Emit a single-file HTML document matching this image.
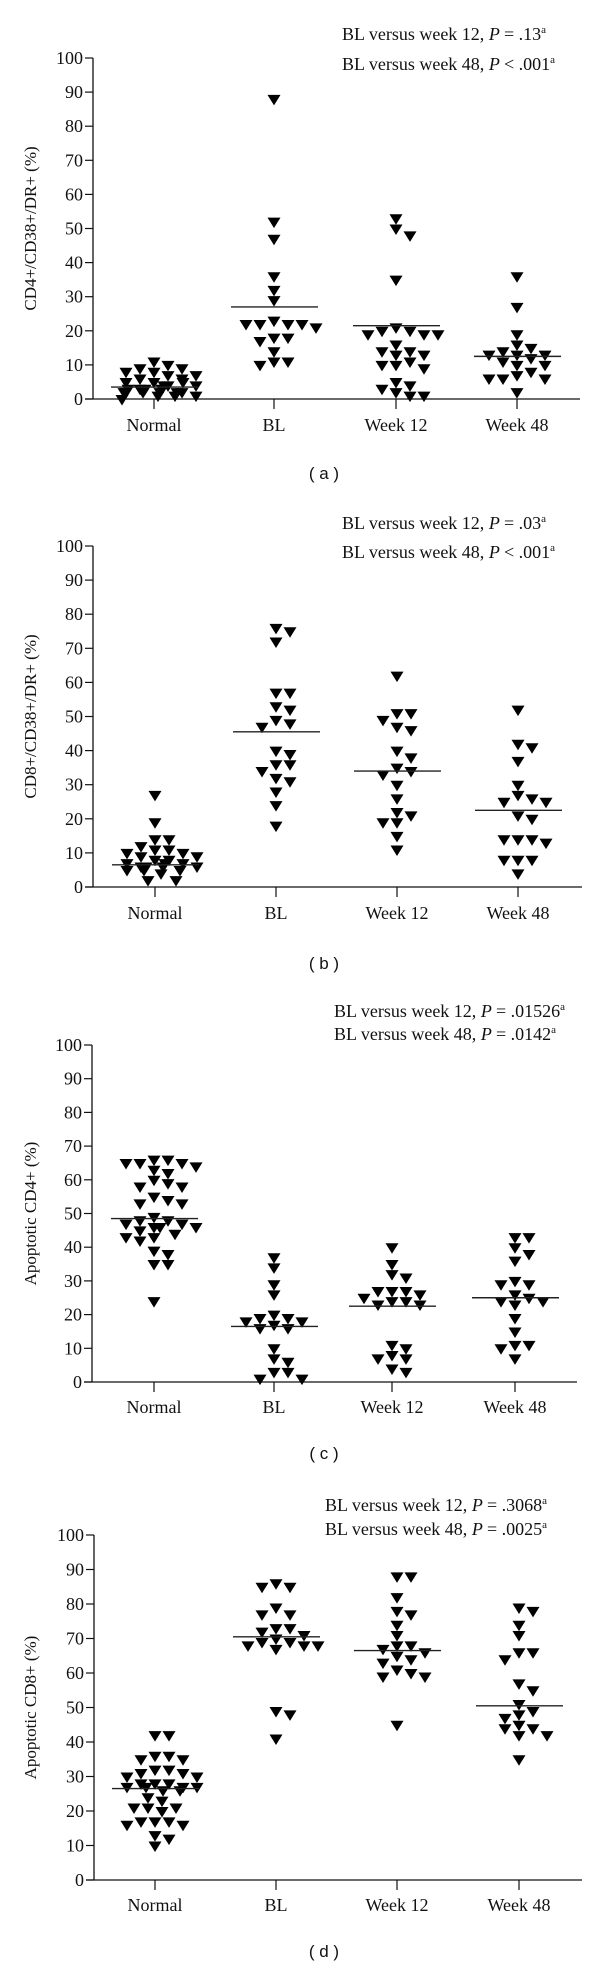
<!DOCTYPE html>
<html><head><meta charset="utf-8"><style>
html,body{margin:0;padding:0;background:#fff;}
svg text{font-family:"Liberation Serif",serif;fill:#111;}
</style></head><body>
<svg id="chart" width="600" height="1968" viewBox="0 0 600 1968" xmlns="http://www.w3.org/2000/svg"></svg>
<script>
const categories = ["Normal","BL","Week 12","Week 48"];
const yTicks = [0,10,20,30,40,50,60,70,80,90,100];

const aNormal = [9,8,7,5,4,3,2,2,1,11,10,9,8,6,5,4,3,2,1,0,7,6,5,4,3,2,2,1,3,2];
const aBL = [88,52,47,36,32,29,23,22,22,22,22,21,18,18,17,14,11,11,10];
const aW12 = [53,50,48,35,21,20,19,19,19,20,16,14,13,13,14,11,10,9,10,5,4,3,2,1,1];
const aW48 = [36,27,19,16,15,14,13,13,13,12,11,10,10,8,7,6,6,6,2];
const aMedians = [3.5,27,21.5,12.5];

const bNormal = [27,19,14,14,12,11,11,10,10,9,9,8,8,7,7,6,6,6,5,5,5,4,2,2,7,6];
const bBL = [76,75,72,57,57,53,52,49,48,47,40,39,36,36,34,31,32,28,24,18];
const bW12 = [62,51,51,49,47,46,40,38,35,34,33,30,26,22,21,19,19,15,11];
const bW48 = [52,42,41,37,30,27,25,26,25,21,20,14,14,13,14,8,8,8,4];
const bMedians = [6.5,45.5,34,22.5];

const cNormal = [66,66,65,65,65,64,63,62,60,59,58,58,55,54,53,53,49,48,48,47,47,46,46,46,45,44,43,43,42,39,38,35,35,24];
const cBL = [37,34,29,26,20,19,19,18,18,17,16,16,10,7,6,3,3,1,1];
const cW12 = [40,35,32,31,27,27,27,26,25,24,24,23,23,11,10,8,7,7,4,3];
const cW48 = [43,43,40,38,36,30,29,29,26,25,24,23,24,19,15,11,11,10,7];
const cMedians = [48.5,16.5,22.5,25];

const dNormal = [42,42,36,36,35,35,32,32,31,31,30,30,28,28,28,27,27,27,27,26,26,24,23,21,21,20,21,17,17,16,16,17,13,12,10];
const dBL = [86,85,85,79,77,77,73,73,72,71,70,69,68,68,67,68,69,49,48,41];
const dW12 = [88,88,82,78,77,74,71,68,68,67,66,65,64,63,61,60,59,59,45];
const dW48 = [79,78,74,71,66,66,64,57,55,51,49,48,47,45,44,44,42,42,35];
const dMedians = [26.5,70.5,66.5,50.5];

const NS = "http://www.w3.org/2000/svg";
const svg = document.getElementById("chart");
function mk(tag, attrs, parent){
  const e = document.createElementNS(NS, tag);
  for (const k in attrs) e.setAttribute(k, attrs[k]);
  (parent||svg).appendChild(e);
  return e;
}

const panels = [
  {id:"a", series:[aNormal,aBL,aW12,aW48], medians:aMedians, ytitle:"CD4+/CD38+/DR+ (%)",
   ax:93, right:580, y100:58, y0:399, cats:[154,274,396,517], labY:431, tagY:479, tagX:324,
   p1:["BL versus week 12, ","= .13"], p2:["BL versus week 48, ","< .001"], px:342, py1:40, py2:70},
  {id:"b", series:[bNormal,bBL,bW12,bW48], medians:bMedians, ytitle:"CD8+/CD38+/DR+ (%)",
   ax:93, right:582, y100:546, y0:887, cats:[155,276,397,518], labY:919, tagY:969, tagX:324,
   p1:["BL versus week 12, ","= .03"], p2:["BL versus week 48, ","< .001"], px:342, py1:529, py2:558},
  {id:"c", series:[cNormal,cBL,cW12,cW48], medians:cMedians, ytitle:"Apoptotic CD4+ (%)",
   ax:92, right:577, y100:1045, y0:1382, cats:[154,274,392,515], labY:1413, tagY:1459, tagX:324,
   p1:["BL versus week 12, ","= .01526"], p2:["BL versus week 48, ","= .0142"], px:334, py1:1017, py2:1040},
  {id:"d", series:[dNormal,dBL,dW12,dW48], medians:dMedians, ytitle:"Apoptotic CD8+ (%)",
   ax:94, right:582, y100:1535, y0:1880, cats:[155,276,397,519], labY:1911, tagY:1957, tagX:324,
   p1:["BL versus week 12, ","= .3068"], p2:["BL versus week 48, ","= .0025"], px:325, py1:1511, py2:1535}
];

function pText(g, x, y, parts, name){
  const t = mk("text", {x:x, y:y, "font-size":18}, g);
  
  
  const s1 = mk("tspan", {}, t); s1.textContent = parts[0];
  const s2 = mk("tspan", {"font-style":"italic"}, t); s2.textContent = "P ";
  const s3 = mk("tspan", {}, t); s3.textContent = parts[1];
  const s4 = mk("tspan", {"font-size":11, dy:-7}, t); s4.textContent = "a";
}

panels.forEach(p => {
  const g = mk("g", {});
  
  
  const yS = v => p.y0 - (p.y0 - p.y100) * v / 100;
  const ya = mk("line", {x1:p.ax, y1:p.y100, x2:p.ax, y2:p.y0, stroke:"#111", "stroke-width":1.3}, g);
  
  
  const xa = mk("line", {x1:p.ax-8, y1:p.y0, x2:p.right, y2:p.y0, stroke:"#111", "stroke-width":1.3}, g);
  
  
  yTicks.forEach(v => {
    const y = yS(v);
    mk("line", {x1:p.ax-8, y1:y, x2:p.ax, y2:y, stroke:"#111", "stroke-width":1.2}, g);
    const t = mk("text", {x:p.ax-10, y:y+6, "font-size":18, "text-anchor":"end"}, g);
    
    
    t.textContent = v;
  });
  const midY = (p.y0 + p.y100) / 2;
  const yt = mk("text", {x:0, y:0, "font-size":17, "text-anchor":"middle", transform:`translate(36,${midY}) rotate(-90)`}, g);
  
  
  yt.textContent = p.ytitle;
  categories.forEach((c, i) => {
    const cx = p.cats[i];
    mk("line", {x1:cx, y1:p.y0, x2:cx, y2:p.y0+10, stroke:"#111", "stroke-width":1.2}, g);
    const t = mk("text", {x:cx, y:p.labY, "font-size":18, "text-anchor":"middle"}, g);
    
    
    t.textContent = c;
    const placed = [];
    const vals = p.series[i].slice().sort((a,b)=>b-a);
    vals.forEach((v, n) => {
      const y = yS(v);
      let off = null;
      for (let k = 0; k < 12; k++) {
        const cand = (k === 0) ? 0 : (k % 2 ? 1 : -1) * Math.ceil(k/2) * 7;
        if (!placed.some(q => Math.abs(q[0]-cand) < 10 && Math.abs(q[1]-y) < 7)) { off = cand; break; }
      }
      if (off === null) off = ((n * 17) % 70) - 35;
      placed.push([off, y]);
      const x = cx + off;
      const tri = mk("polygon", {points:`${x-6.5},${y-4} ${x+6.5},${y-4} ${x},${y+6.5}`, fill:"#000"}, g);
      
      
    });
    const my = yS(p.medians[i]);
    const ml = mk("line", {x1:cx-43, y1:my, x2:cx+44, y2:my, stroke:"#222", "stroke-width":1.4}, g);
    
    
  });
  pText(g, p.px, p.py1, p.p1, 'p-value-week12');
  pText(g, p.px, p.py2, p.p2, 'p-value-week48');
  const tag = mk("text", {x:p.tagX, y:p.tagY, "font-size":17, "text-anchor":"middle", style:"font-family:'Liberation Sans',sans-serif"}, g);
  
  
  tag.textContent = "( " + p.id + " )";
});
</script>
</body></html>
